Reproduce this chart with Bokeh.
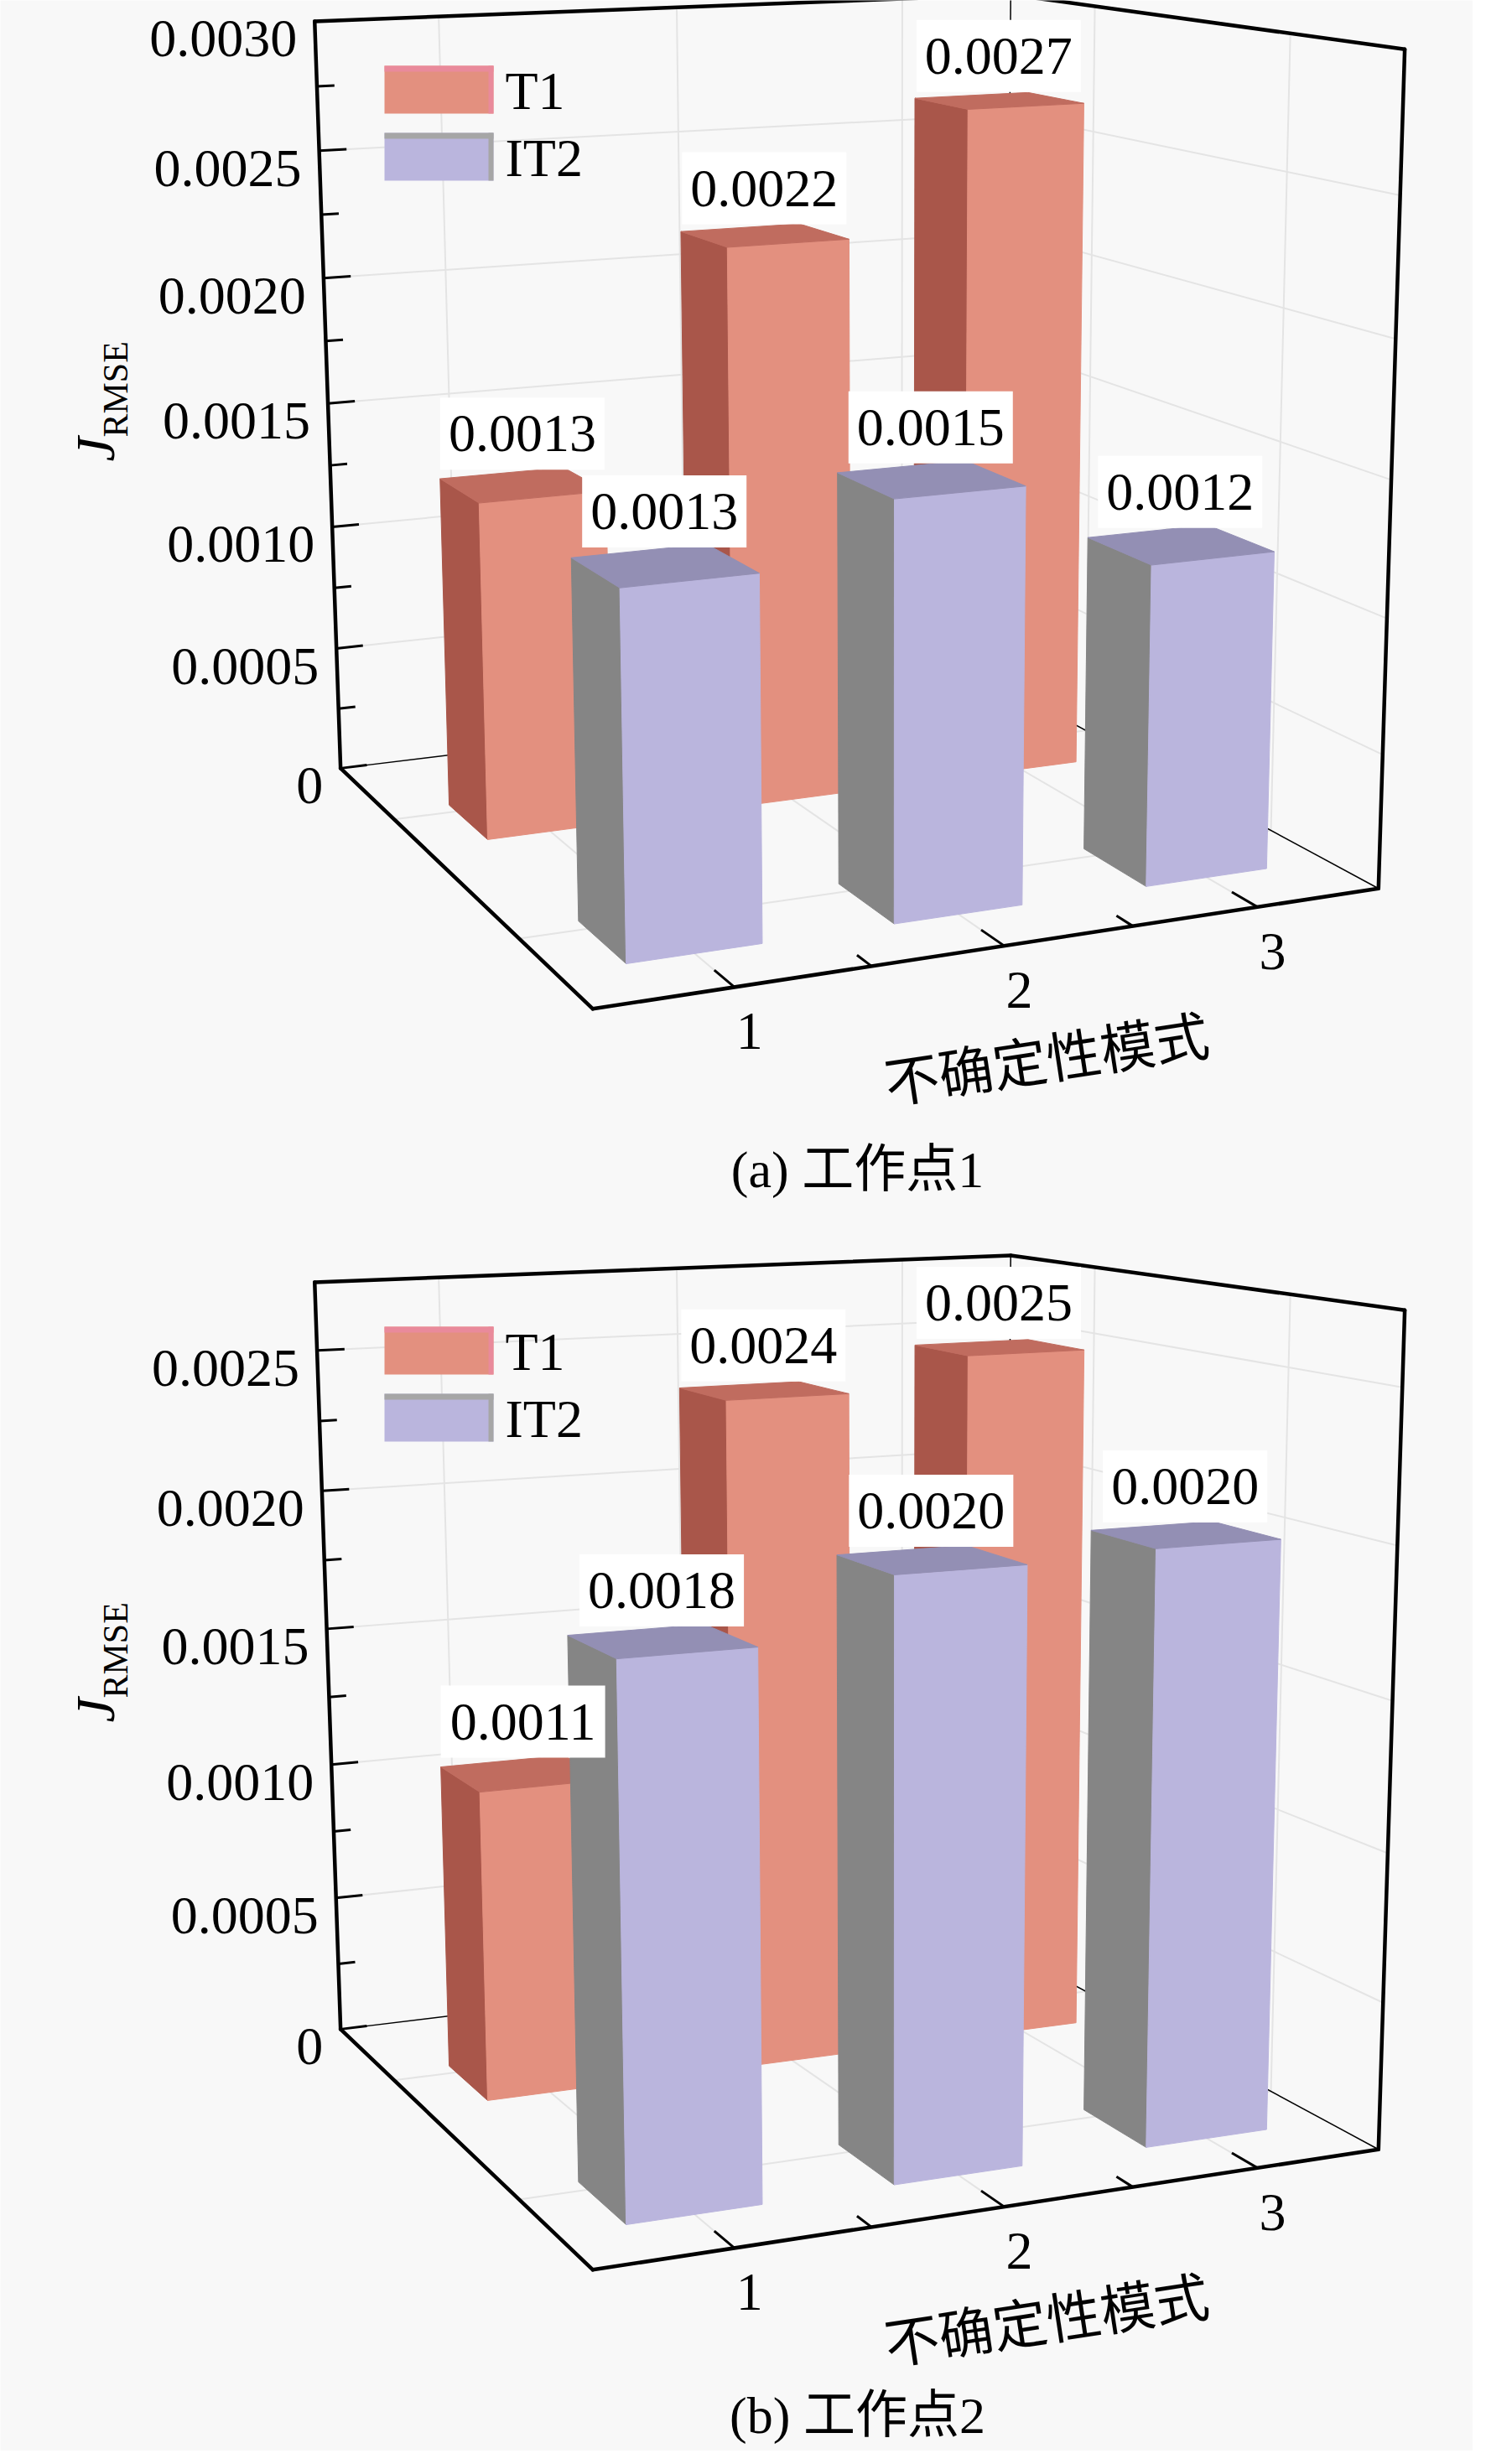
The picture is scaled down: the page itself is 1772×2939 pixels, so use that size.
import math
import numpy as np
from bokeh.plotting import figure
from bokeh.models import Range1d
from bokeh.core.properties import value
from bokeh.embed import file_html
from bokeh.resources import INLINE

# ---------------- data ----------------
categories = ["1", "2", "3"]
series = ["T1", "IT2"]
t1_a = [0.00130, 0.00219, 0.00266]
it2_a = [0.00131, 0.00152, 0.00119]
t1_b = [0.00109, 0.00237, 0.00248]
it2_b = [0.00178, 0.00197, 0.00199]
ymax_a = 0.0030
ymax_b = 0.00274
yticks_a = [0.0, 0.0005, 0.0010, 0.0015, 0.0020, 0.0025, 0.0030]
yticks_b = [0.0, 0.0005, 0.0010, 0.0015, 0.0020, 0.0025]
captions = ["(a) 工作点1", "(b) 工作点2"]
x_title = "不确定性模式"
y_title_main = "J"
y_title_sub = "RMSE"

# ---------------- layout / style ----------------
PAGE_W, PAGE_H = 1772, 2939
PANEL_OFF = [0, 1504]
CAPTION_V = [1402, 1384]   # centre line (panel-relative)
XLO, XHI = 0.5, 3.5
ZLO, ZHI = 0.5, 2.5
HS = 3.0
BW, BD = 0.5, 0.32
ZPOS = [1.0, 2.0]
ZSHIFT = 0.10
BG = "#F8F8F8"
GRID = "#E4E4E4"
FS = 64
MID = 4          # small correction for 'middle' text placement
SERIF = value("Liberation Serif")
MIXED = value("Liberation Serif, Noto Sans CJK SC")
CJK = value("Noto Sans CJK SC")
COLORS = {
    "T1": dict(front="#E3907F", side="#A9564A", top="#C06C5F", sw_edge="#E98A9B"),
    "IT2": dict(front="#BAB5DD", side="#858585", top="#938FB4", sw_edge="#A6A6A6"),
}

# camera reference: world (x, z, h_norm) -> page pixel (u, v) of panel (a)
cam_world = [
    (0.5, 0.5, 0), (0.5, 0.5, 1), (0.5, 2.5, 0), (3.5, 2.5, 0), (3.5, 2.5, 1),
    (3.5, 0.5, 1), (1, 2.5, 0), (2, 2.5, 0), (3, 2.5, 0), (0.5, 0.5, 1 / 3),
    (0.5, 0.5, 2 / 3), (1, 0.5, 1), (2, 0.5, 1), (3, 0.5, 1), (3.5, 1, 1), (3.5, 2, 1),
    (3.5, 1, 5 / 6), (3.5, 1, 2 / 3), (3.5, 1, 0.5),
    (3.5, 2, 5 / 6), (3.5, 2, 2 / 3), (3.5, 2, 0.5),
    (3, 0.5, 5 / 6), (3, 0.5, 2 / 3),
]
cam_pix = [
    (412, 924), (382, 33), (716, 1215), (1652, 1068), (1683, 67),
    (1213, 2), (882, 1186), (1201, 1132), (1507, 1086), (407, 636),
    (395, 338), (531, 27), (814, 16), (1084, 6), (1314, 15), (1541, 47),
    (1313, 165), (1311, 317), (1309, 458),
    (1543, 211), (1541, 376), (1537, 533),
    (1081, 147), (1078, 292),
]


def fit_dlt(W, U):
    W = np.asarray(W, float).copy()
    W[:, 2] *= HS
    U = np.asarray(U, float)
    n = len(W)
    mu = U.mean(0)
    su = math.sqrt(2) / np.mean(np.linalg.norm(U - mu, axis=1))
    T = np.array([[su, 0, -su * mu[0]], [0, su, -su * mu[1]], [0, 0, 1]])
    mw = W.mean(0)
    sw = math.sqrt(3) / np.mean(np.linalg.norm(W - mw, axis=1))
    S = np.array([[sw, 0, 0, -sw * mw[0]], [0, sw, 0, -sw * mw[1]],
                  [0, 0, sw, -sw * mw[2]], [0, 0, 0, 1]])
    Un = (T @ np.c_[U, np.ones(n)].T).T
    Wn = (S @ np.c_[W, np.ones(n)].T).T
    A = []
    for X, (u, v, _) in zip(Wn, Un):
        A.append(np.r_[X, np.zeros(4), -u * X])
        A.append(np.r_[np.zeros(4), X, -v * X])
    _, _, Vt = np.linalg.svd(np.array(A))
    Pn = Vt[-1].reshape(3, 4)
    return np.linalg.inv(T) @ Pn @ S


P = fit_dlt(cam_world, cam_pix)
_, _, Vt = np.linalg.svd(P)
cc = Vt[-1]
CAM = cc[:3] / cc[3]


def proj(x, z, hw):
    r = P @ np.array([x, z, hw, 1.0])
    return r[0] / r[2], r[1] / r[2]


def to_data(u, v, off):
    return u, PAGE_H - (v + off)


def pt(x, z, hw, off):
    u, v = proj(x, z, hw)
    return to_data(u, v, off)


def text_width(s, fs):
    w = 0.0
    for ch in s:
        w += 0.25 if ch == "." else 0.5
    return w * fs


p = figure(width=1756, height=2923, x_range=Range1d(8, 1764), y_range=Range1d(8, 2931),
           output_backend="svg", toolbar_location=None, x_axis_type=None, y_axis_type=None,
           min_border=0, background_fill_color=BG, border_fill_color=BG,
           outline_line_color=None)

panels = [
    (PANEL_OFF[0], ymax_a, t1_a, it2_a, yticks_a, captions[0], CAPTION_V[0]),
    (PANEL_OFF[1], ymax_b, t1_b, it2_b, yticks_b, captions[1], CAPTION_V[1]),
]


def seg3(lst, a, b, off):
    xa, ya = pt(*a, off)
    xb, yb = pt(*b, off)
    lst[0].append(xa); lst[1].append(ya); lst[2].append(xb); lst[3].append(yb)


for off, ymax, t1, it2, yticks, cap, cap_v in panels:
    grid = [[], [], [], []]
    thin = [[], [], [], []]
    thick = [[], [], [], []]
    tk = [[], [], [], []]
    # wall / floor gridlines
    for t in yticks[1:]:
        hw = t / ymax * HS
        seg3(grid, (XLO, ZLO, hw), (XHI, ZLO, hw), off)
        seg3(grid, (XHI, ZLO, hw), (XHI, ZHI, hw), off)
    for i in range(len(categories)):
        seg3(grid, (i + 1, ZLO, 0), (i + 1, ZLO, HS), off)
        seg3(grid, (i + 1, ZLO, 0), (i + 1, ZHI, 0), off)
    for zc in ZPOS:
        seg3(grid, (XHI, zc, 0), (XHI, zc, HS), off)
        seg3(grid, (XLO, zc, 0), (XHI, zc, 0), off)
    p.segment(grid[0], grid[1], grid[2], grid[3], line_color=GRID, line_width=2)
    # thin hidden edges
    seg3(thin, (XLO, ZLO, 0), (XHI, ZLO, 0), off)
    seg3(thin, (XHI, ZLO, 0), (XHI, ZHI, 0), off)
    seg3(thin, (XHI, ZLO, 0), (XHI, ZLO, HS), off)
    p.segment(thin[0], thin[1], thin[2], thin[3], line_color="black", line_width=1.5)

    # bars (painter's order, farthest first)
    boxes = []
    for s, vals in enumerate([t1, it2]):
        cols = COLORS[series[s]]
        zc = ZPOS[s] + ZSHIFT
        for i, val in enumerate(vals):
            xc = i + 1
            h = val / ymax * HS
            d = np.linalg.norm(np.array([xc, zc, h / 2]) - CAM)
            boxes.append((d, xc, zc, h, cols))
    boxes.sort(key=lambda b: -b[0])
    fx, fy, fc = [], [], []
    for d, xc, zc, h, cols in boxes:
        x0, x1 = xc - BW / 2, xc + BW / 2
        z0, z1 = zc - BD / 2, zc + BD / 2
        faces = [
            ((-1, 0, 0), [(x0, z0, 0), (x0, z1, 0), (x0, z1, h), (x0, z0, h)], cols["side"]),
            ((1, 0, 0), [(x1, z0, 0), (x1, z1, 0), (x1, z1, h), (x1, z0, h)], cols["side"]),
            ((0, -1, 0), [(x0, z0, 0), (x1, z0, 0), (x1, z0, h), (x0, z0, h)], cols["side"]),
            ((0, 1, 0), [(x0, z1, 0), (x1, z1, 0), (x1, z1, h), (x0, z1, h)], cols["front"]),
            ((0, 0, 1), [(x0, z0, h), (x1, z0, h), (x1, z1, h), (x0, z1, h)], cols["top"]),
            ((0, 0, -1), [(x0, z0, 0), (x1, z0, 0), (x1, z1, 0), (x0, z1, 0)], cols["side"]),
        ]
        for n, verts, col in faces:
            if np.dot(CAM - np.array(verts[0], float), np.array(n, float)) > 0:
                xs, ys = zip(*[pt(*vv, off) for vv in verts])
                fx.append(list(xs)); fy.append(list(ys)); fc.append(col)
    p.patches(fx, fy, fill_color=fc, line_color=fc, line_width=1)

    # thick frame
    seg3(thick, (XLO, ZLO, 0), (XLO, ZLO, HS), off)
    seg3(thick, (XLO, ZLO, HS), (XHI, ZLO, HS), off)
    seg3(thick, (XHI, ZLO, HS), (XHI, ZHI, HS), off)
    seg3(thick, (XHI, ZHI, HS), (XHI, ZHI, 0), off)
    seg3(thick, (XLO, ZHI, 0), (XHI, ZHI, 0), off)
    seg3(thick, (XLO, ZLO, 0), (XLO, ZHI, 0), off)
    p.segment(thick[0], thick[1], thick[2], thick[3], line_color="black", line_width=4.5,
              line_cap="round")
    # ticks
    step = yticks[1] - yticks[0]
    t = 0.0
    while t <= ymax + 1e-12:
        hw = t / ymax * HS
        major = any(abs(t - yt) < 1e-9 for yt in yticks)
        seg3(tk, (XLO, ZLO, hw), (XLO + (0.11 if major else 0.07), ZLO, hw), off)
        t += step / 2
    for i in range(len(categories)):
        seg3(tk, (i + 1, ZHI, 0), (i + 1, ZHI - 0.12, 0), off)
    for xm in [1.5, 2.5]:
        seg3(tk, (xm, ZHI, 0), (xm, ZHI - 0.08, 0), off)
    p.segment(tk[0], tk[1], tk[2], tk[3], line_color="black", line_width=3)

    # y tick labels
    lx, ly, lt = [], [], []
    for yt in yticks:
        u, v = proj(XLO, ZLO, yt / ymax * HS)
        x, y = to_data(u - 21, v + 21, off)
        lx.append(x); ly.append(y); lt.append("0" if yt == 0 else f"{yt:.4f}")
    p.text(lx, ly, text=lt, text_font=SERIF, text_font_size=f"{FS}px", text_align="right",
           text_baseline="alphabetic", text_color="black")
    # x tick labels
    lx, ly = [], []
    for i in range(len(categories)):
        u, v = proj(i + 1, ZHI, 0)
        x, y = to_data(u + 18, v + 49 + MID, off)
        lx.append(x); ly.append(y)
    p.text(lx, ly, text=categories, text_font=SERIF, text_font_size=f"{FS}px",
           text_align="center", text_baseline="middle", text_color="black")
    # x title, rotated along the category axis
    ua, va = proj(XLO, ZHI, 0)
    ub, vb = proj(XHI, ZHI, 0)
    ang = math.atan2(va - vb, ub - ua)
    x, y = to_data(1255, 1267, off)
    p.text([x], [y], text=[x_title], text_font=CJK, text_font_size="65px", angle=ang,
           text_align="center", text_baseline="middle", text_color="black")
    # y title (rotated, reading upwards): J then subscript RMSE
    x, y = to_data(121, 558, off)
    p.text([x], [y], text=[y_title_main], text_font=SERIF, text_font_size="66px",
           text_font_style="italic", angle=math.pi / 2, text_align="left",
           text_baseline="middle", text_color="black")
    x, y = to_data(145, 529, off)
    p.text([x], [y], text=[y_title_sub], text_font=SERIF, text_font_size="42px",
           angle=math.pi / 2, text_align="left", text_baseline="middle",
           text_color="black")
    # caption
    x, y = to_data(1030, cap_v, off)
    p.text([x], [y], text=[cap], text_font=MIXED, text_font_size="62px",
           text_align="center", text_baseline="middle", text_color="black")
    # legend
    sw_top = [86, 166]
    for s, name in enumerate(series):
        cols = COLORS[name]
        l, r = 466, 596
        t0, b0 = sw_top[s], sw_top[s] + 57
        _, yt = to_data(0, t0, off)
        _, yb = to_data(0, b0, off)
        p.quad(left=[l], right=[r], top=[yt], bottom=[yb], fill_color=cols["front"],
               line_color=None)
        p.quad(left=[l], right=[r], top=[yt], bottom=[yt - 7], fill_color=cols["sw_edge"],
               line_color=None)
        p.quad(left=[r - 6], right=[r], top=[yt], bottom=[yb], fill_color=cols["sw_edge"],
               line_color=None)
        x, y = to_data(610, t0 + 26 + MID, off)
        p.text([x], [y], text=[name], text_font=SERIF, text_font_size=f"{FS}px",
               text_align="left", text_baseline="middle", text_color="black")
    # value labels on white boxes
    vx, vy, vt = [], [], []
    bl, br, bt, bb = [], [], [], []
    for s, vals in enumerate([t1, it2]):
        zc = ZPOS[s] + ZSHIFT
        for i, val in enumerate(vals):
            h = val / ymax * HS
            uc, _ = proj(i + 1, zc, h)
            _, vbk = proj(i + 1, zc - BD / 2, h)
            lab = f"{val:.4f}"
            base_v = vbk - 28
            x, y = to_data(uc, base_v - 21 + 2, off)
            vx.append(x); vy.append(y); vt.append(lab)
            half = text_width(lab, FS) / 2 + 10
            bl.append(uc - half); br.append(uc + half)
            bt.append(to_data(0, base_v - 62, off)[1])
            bb.append(to_data(0, base_v + 24, off)[1])
    p.quad(left=bl, right=br, top=bt, bottom=bb, fill_color="white", line_color=None)
    p.text(vx, vy, text=vt, text_font=SERIF, text_font_size=f"{FS}px", text_align="center",
           text_baseline="middle", text_color="black")

open("out.html", "w").write(file_html(p, INLINE))
